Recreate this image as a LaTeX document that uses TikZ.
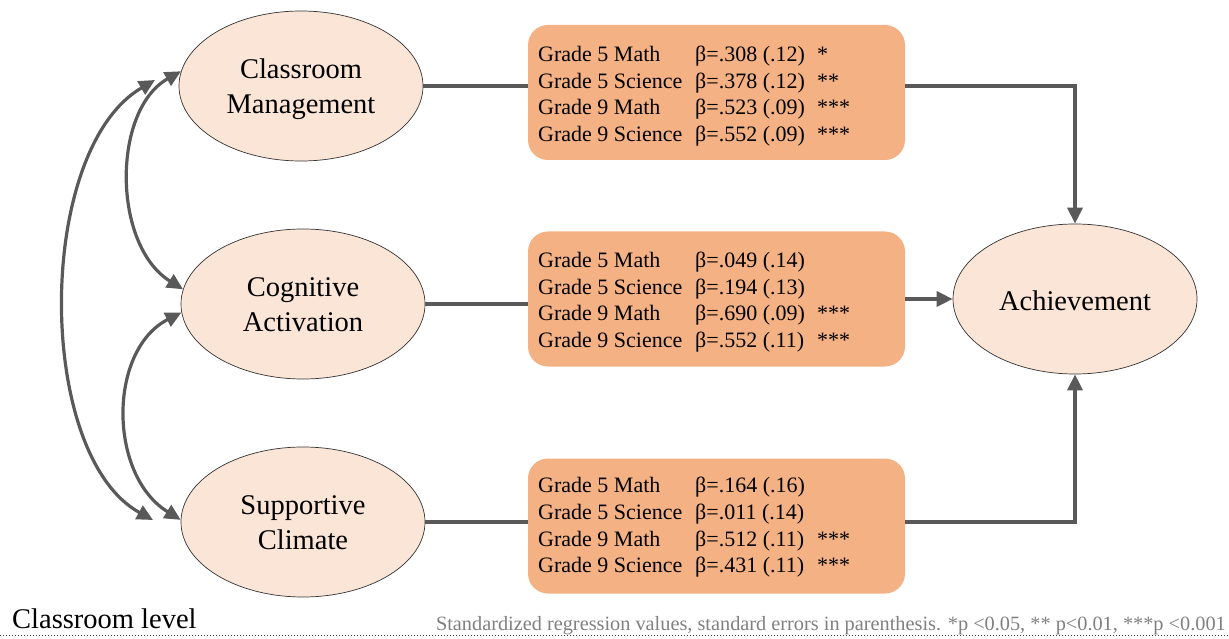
\documentclass[tikz,border=0pt]{standalone}
\usepackage{fontspec}
\setmainfont{Liberation Serif}
\usetikzlibrary{arrows.meta,shapes.geometric}
\definecolor{ellfill}{HTML}{FBE5D6}
\definecolor{boxfill}{HTML}{F4B183}
\definecolor{arr}{HTML}{595959}
\definecolor{notegray}{HTML}{808080}
\newcommand{\crow}[3]{\makebox[157pt][l]{#1}\makebox[122pt][l]{#2}#3}
\newcommand{\twoline}[2]{\raisebox{-3pt}[\height][\depth]{\begin{tabular}{@{}c@{}}#1\\#2\end{tabular}}}
\begin{document}
\begin{tikzpicture}[x=1pt,y=-1pt,
  latent/.style={ellipse, draw=black!80, line width=0.7pt, fill=ellfill, inner sep=0pt,
    minimum width=244pt, minimum height=150pt, align=center,
    font=\fontsize{28.5}{35}\selectfont},
  coefbox/.style={draw=none, fill=boxfill, rounded corners=20pt,
    minimum width=377pt, minimum height=135pt, inner sep=0pt},
  coeftext/.style={anchor=west, align=left, inner sep=0pt,
    font=\fontsize{22}{26.7}\selectfont},
  conn/.style={draw=arr, line width=3.2pt, -{Triangle[length=16pt,width=15pt]}},
  plainconn/.style={draw=arr, line width=3.2pt},
  corr/.style={draw=arr, line width=3.2pt,
    {Triangle[length=16pt,width=15pt]}-{Triangle[length=16pt,width=15pt]}},
]
\useasboundingbox (0,0) rectangle (1229,639);

% latent variables
\node[latent] (CM) at (301,86) {\twoline{Classroom}{Management}};
\node[latent] (CA) at (303,304) {\twoline{Cognitive}{Activation}};
\node[latent] (SC) at (303,522) {\twoline{Supportive}{Climate}};
\node[latent] (ACH) at (1075,299) {\raisebox{-2pt}[\height][\depth]{Achievement}};

% coefficient boxes
\node[coefbox] (b1) at (716.5,92.5) {};
\node[coefbox] (b2) at (716.5,299) {};
\node[coefbox] (b3) at (716.5,526) {};

\node[coeftext] (t1) at (538,96) {%
\crow{Grade 5 Math}{β=.308 (.12)}{*}\\
\crow{Grade 5 Science}{β=.378 (.12)}{**}\\
\crow{Grade 9 Math}{β=.523 (.09)}{***}\\
\crow{Grade 9 Science}{β=.552 (.09)}{***}};
\node[coeftext] (t2) at (538,302) {%
\crow{Grade 5 Math}{β=.049 (.14)}{}\\
\crow{Grade 5 Science}{β=.194 (.13)}{}\\
\crow{Grade 9 Math}{β=.690 (.09)}{***}\\
\crow{Grade 9 Science}{β=.552 (.11)}{***}};
\node[coeftext] (t3) at (538,527.5) {%
\crow{Grade 5 Math}{β=.164 (.16)}{}\\
\crow{Grade 5 Science}{β=.011 (.14)}{}\\
\crow{Grade 9 Math}{β=.512 (.11)}{***}\\
\crow{Grade 9 Science}{β=.431 (.11)}{***}};

% paths to achievement
\draw[plainconn] (CM.east) -- (CM.east -| b1.west);
\draw[conn] (b1.east |- CM.east) -| (ACH.north);
\draw[plainconn] (CA.east) -- (CA.east -| b2.west);
\draw[conn] (b2.east) -- (ACH.west);
\draw[plainconn] (SC.east) -- (SC.east -| b3.west);
\draw[conn] (b3.east |- SC.east) -| (ACH.south);

% correlations
\coordinate (oTop) at (155,80);
\coordinate (oBot) at (153,520);
\draw[corr] (oTop) .. controls (35,150) and (35,455) .. (oBot);
\draw[corr] (CM.173) .. controls (112,110) and (112,245) .. (CA.173);
\draw[corr] (CA.184) .. controls (108,350) and (108,475) .. (SC.179);

% footer
\node[anchor=base west, inner sep=0pt, font=\fontsize{28.5}{30}\selectfont] (lvl) at (12,628)
  {Classroom level};
\node[anchor=base east, inner sep=0pt, text=notegray, font=\fontsize{20.3}{21}\selectfont] (note) at (1226,630)
  {Standardized regression values, standard errors in parenthesis. *p <0.05, ** p<0.01, ***p <0.001};
\draw[black!75, line width=1pt, dotted] (0,635.5) -- (1229,635.5);
\end{tikzpicture}
\end{document}
